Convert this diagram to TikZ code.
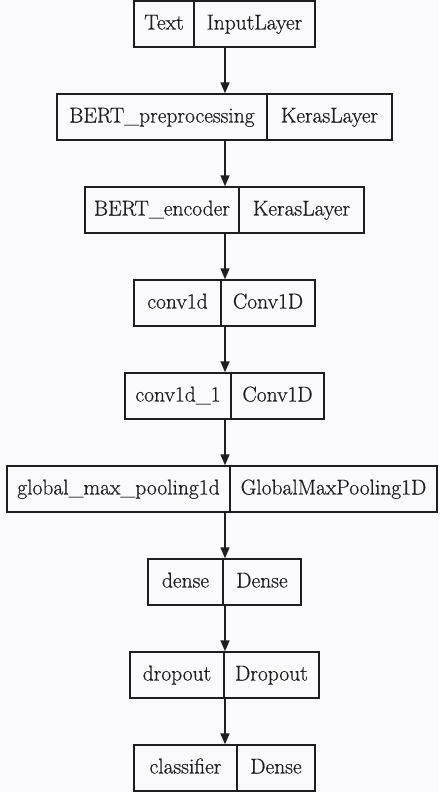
\documentclass[tikz,border=0pt]{standalone}
\usepackage{fontspec}
\newfontfamily\recfont{Latin Modern Roman}[RawFeature={embolden=0.6}]
\usetikzlibrary{arrows.meta}
\definecolor{bgc}{HTML}{FAFAFC}
\definecolor{linec}{HTML}{1E1E22}
\tikzset{
  recbox/.style={draw=linec, line width=1.4pt, rectangle, inner sep=0pt, minimum height=46pt},
  parttext/.style={inner sep=0pt, font=\recfont\fontsize{21.5}{25}\selectfont, text=linec, text height=15pt, text depth=4pt},
  flow/.style={draw=linec, line width=1.4pt, -{Triangle[width=9pt,length=11pt]}}
}
\newcommand\layerrec[7]{%
  \node[recbox, minimum width={(#4-#2)*1pt}] (#1) at ({(#2+#4)/2},{93*#5+24}) {};
  \node[recbox, minimum width={(#3-#2)*1pt}, anchor=west] (#1l) at (#1.west) {};
  \node[parttext] (#1lt) at (#1l.center) {#6};
  \node[parttext] (#1rt) at ({(#3+#4)/2},{93*#5+24}) {#7};
}
\begin{document}
\begin{tikzpicture}[x=1pt,y=-1pt]
\fill[bgc] (0,0) rectangle (439,792);
\useasboundingbox (0,0) rectangle (439,792);
\coordinate (axis) at (225,0);
\layerrec{r1}{134}{194}{315}{0}{Text}{InputLayer}
\layerrec{r2}{57}{267}{392}{1}{BERT\_preprocessing}{KerasLayer}
\layerrec{r3}{85}{239}{364}{2}{BERT\_encoder}{KerasLayer}
\layerrec{r4}{134}{221}{315}{3}{conv1d}{Conv1D}
\layerrec{r5}{125}{231}{324}{4}{conv1d\_1}{Conv1D}
\layerrec{r6}{7}{230}{437}{5}{global\_max\_pooling1d}{GlobalMaxPooling1D}
\layerrec{r7}{148}{223}{301}{6}{dense}{Dense}
\layerrec{r8}{130}{224}{319}{7}{dropout}{Dropout}
\layerrec{r9}{134}{237}{315}{8}{classifier}{Dense}
\foreach \a/\b in {r1/r2,r2/r3,r3/r4,r4/r5,r5/r6,r6/r7,r7/r8,r8/r9}
  \draw[flow] (\a.south -| axis) -- (\b.north -| axis);
\end{tikzpicture}
\end{document}
